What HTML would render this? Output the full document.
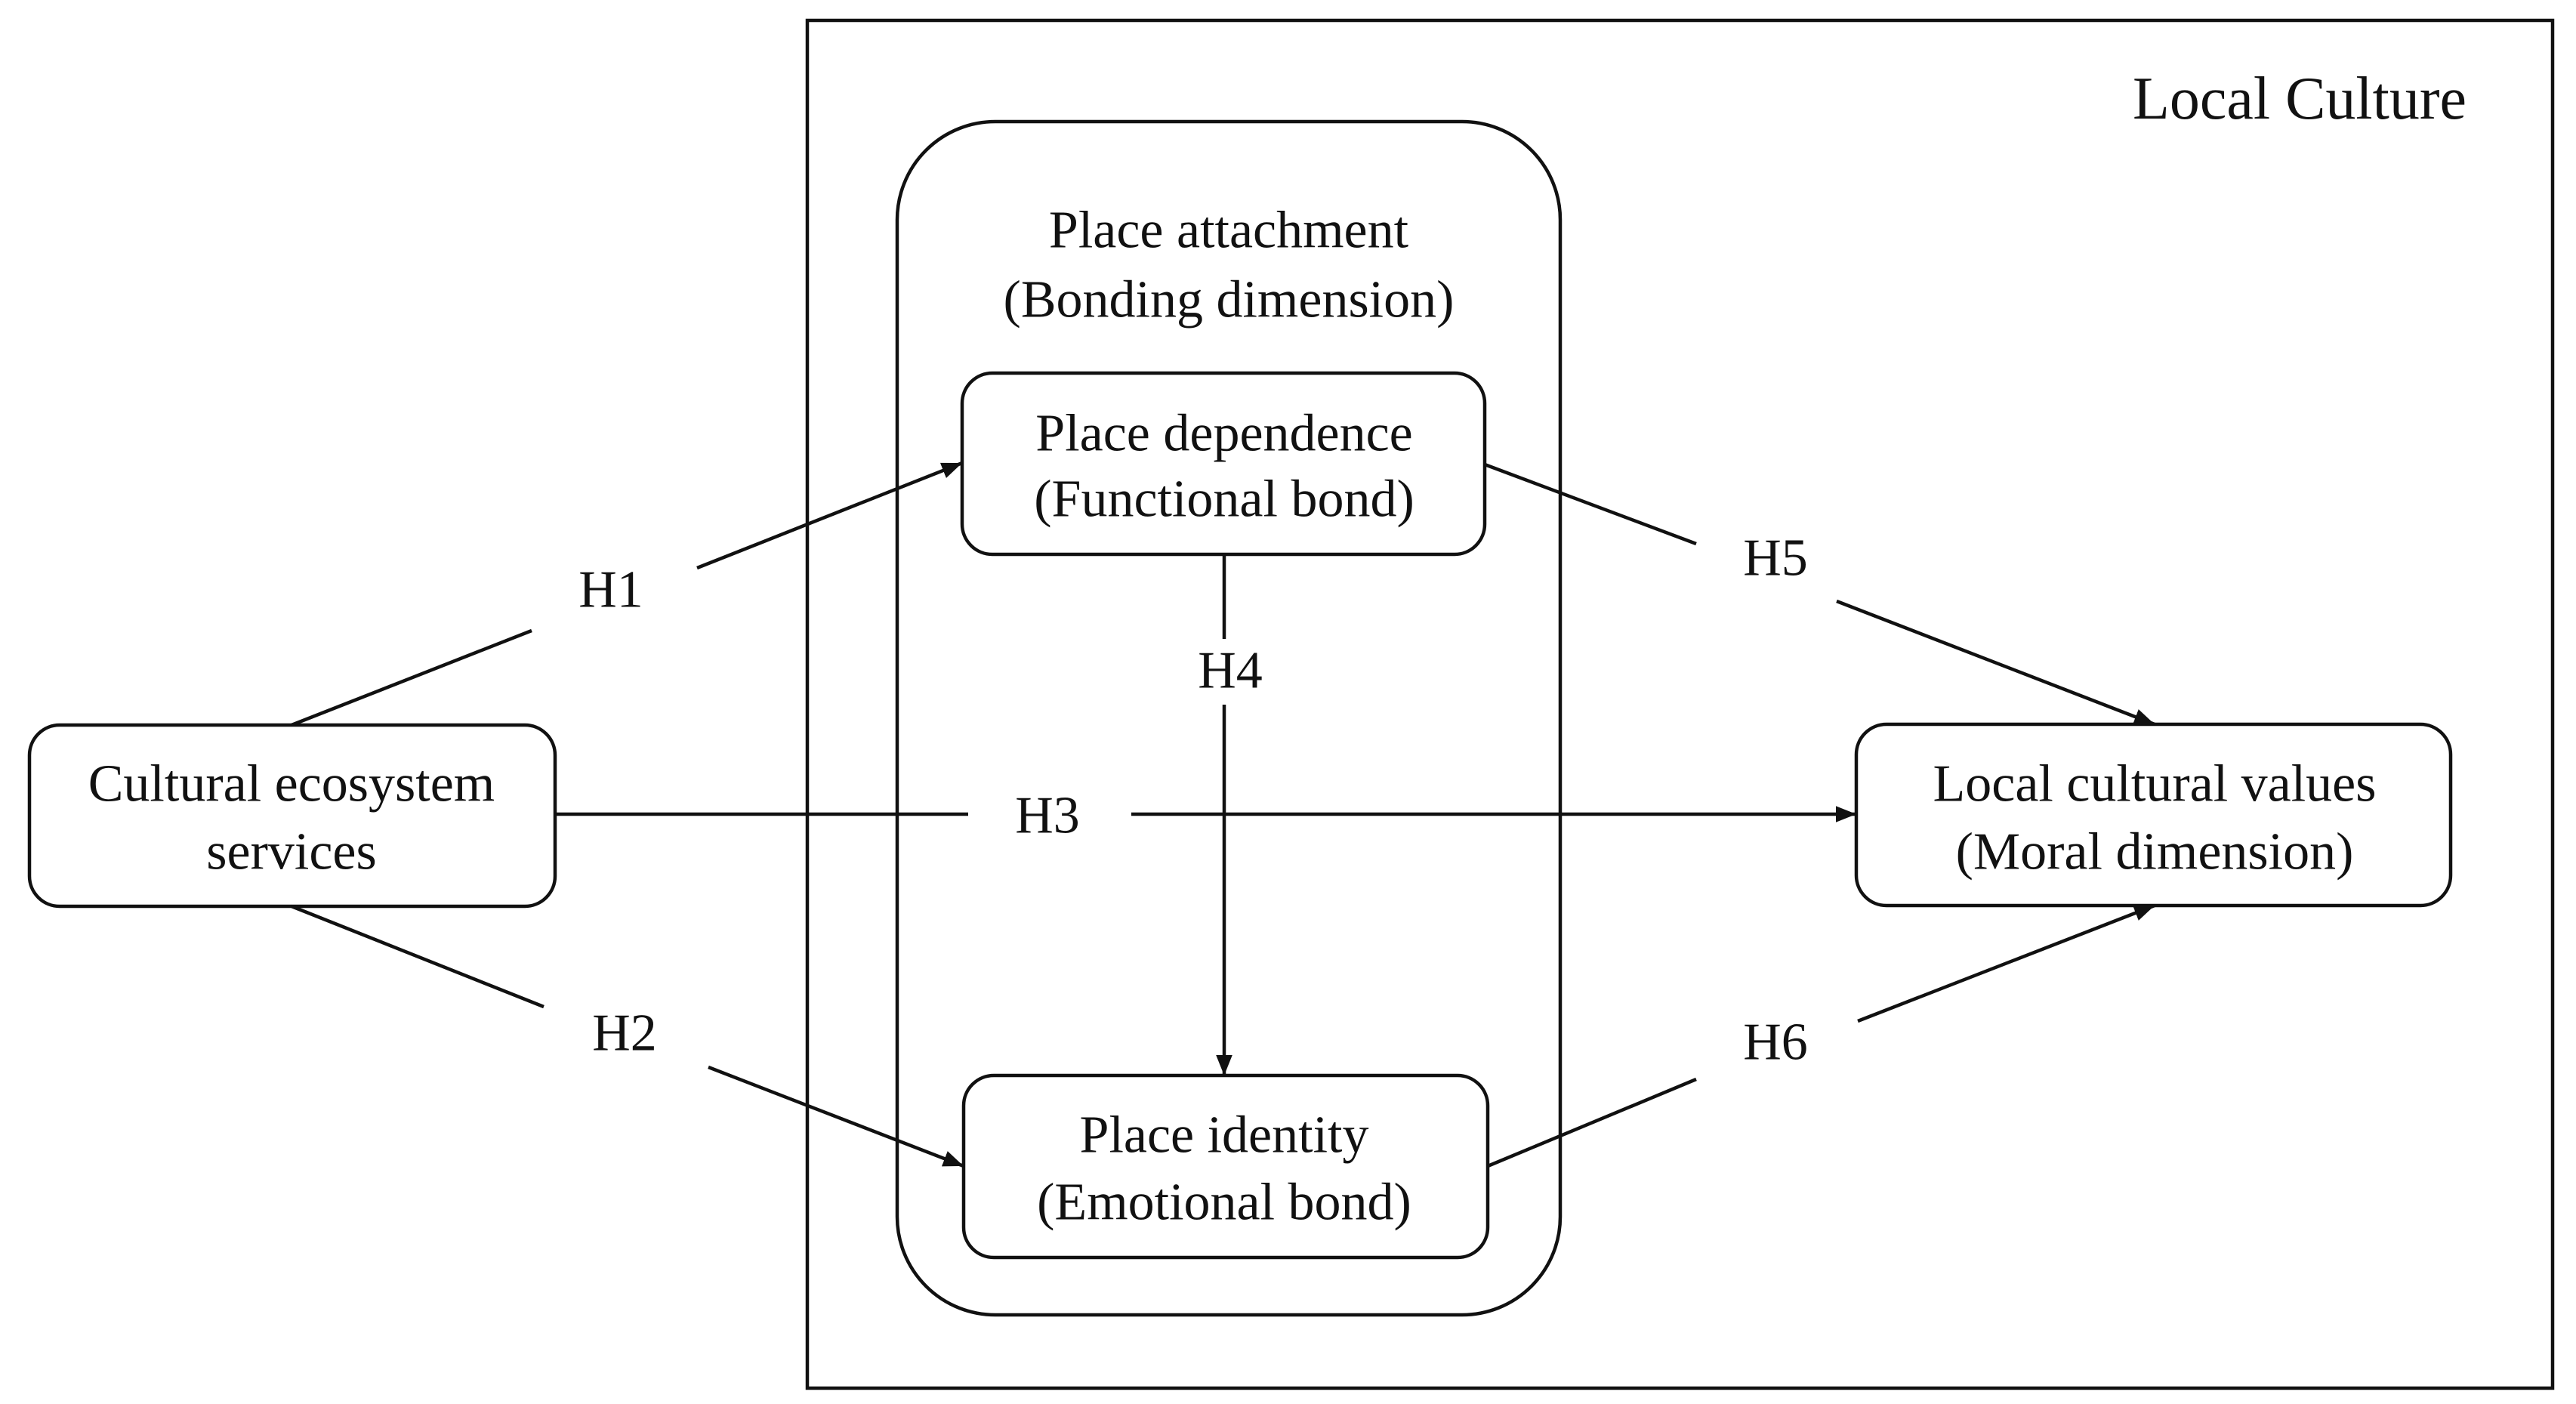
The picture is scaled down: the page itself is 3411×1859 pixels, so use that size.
<!DOCTYPE html>
<html><head><meta charset="utf-8"><style>
html,body{margin:0;padding:0;background:#fff;width:3411px;height:1859px;overflow:hidden}
text{font-family:"Liberation Serif",serif;fill:#111;font-size:70px;text-anchor:middle;dominant-baseline:central}
</style></head><body>
<svg width="3411" height="1859" viewBox="0 0 3411 1859" xmlns="http://www.w3.org/2000/svg">
<defs><marker id="a" viewBox="0 0 10 10" refX="10" refY="5" markerWidth="6" markerHeight="6" markerUnits="strokeWidth" orient="auto"><path d="M0,1 L10,5 L0,9 z" fill="#111"/></marker></defs>
<g fill="none" stroke="#111" stroke-width="4.5">
<rect x="1069" y="27" width="2311" height="1811"/>
<rect x="1188" y="161" width="878" height="1580" rx="130" ry="130"/>
<rect x="1274" y="494" width="692" height="240" rx="40"/>
<rect x="1276" y="1424" width="694" height="241" rx="40"/>
<rect x="39" y="960" width="696" height="240" rx="40"/>
<rect x="2458" y="959" width="787" height="240" rx="40"/>
<line x1="386" y1="960" x2="704" y2="835"/>
<line x1="923" y1="752" x2="1274" y2="613" marker-end="url(#a)"/>
<line x1="386" y1="1200" x2="720" y2="1333"/>
<line x1="938" y1="1413" x2="1276" y2="1544" marker-end="url(#a)"/>
<line x1="735" y1="1078" x2="1282" y2="1078"/>
<line x1="1498" y1="1078" x2="2458" y2="1078" marker-end="url(#a)"/>
<line x1="1621" y1="734" x2="1621" y2="846"/>
<line x1="1621" y1="933" x2="1621" y2="1424" marker-end="url(#a)"/>
<line x1="1966" y1="615" x2="2246" y2="720"/>
<line x1="2432" y1="796" x2="2853" y2="959" marker-end="url(#a)"/>
<line x1="1970" y1="1544" x2="2246" y2="1429"/>
<line x1="2460" y1="1352" x2="2853" y2="1199" marker-end="url(#a)"/>
</g>
<text x="3045" y="131" style="font-size:80px">Local Culture</text>
<text x="1627" y="305">Place attachment</text>
<text x="1627" y="397">(Bonding dimension)</text>
<text x="1621" y="574">Place dependence</text>
<text x="1621" y="661">(Functional bond)</text>
<text x="1621" y="1503">Place identity</text>
<text x="1621" y="1592">(Emotional bond)</text>
<text x="386" y="1038">Cultural ecosystem</text>
<text x="386" y="1128">services</text>
<text x="2853" y="1038">Local cultural values</text>
<text x="2853" y="1128">(Moral dimension)</text>
<text x="809" y="781">H1</text>
<text x="827" y="1368">H2</text>
<text x="1387" y="1080">H3</text>
<text x="1629" y="888">H4</text>
<text x="2351" y="739">H5</text>
<text x="2351" y="1380">H6</text>
</svg>
</body></html>
